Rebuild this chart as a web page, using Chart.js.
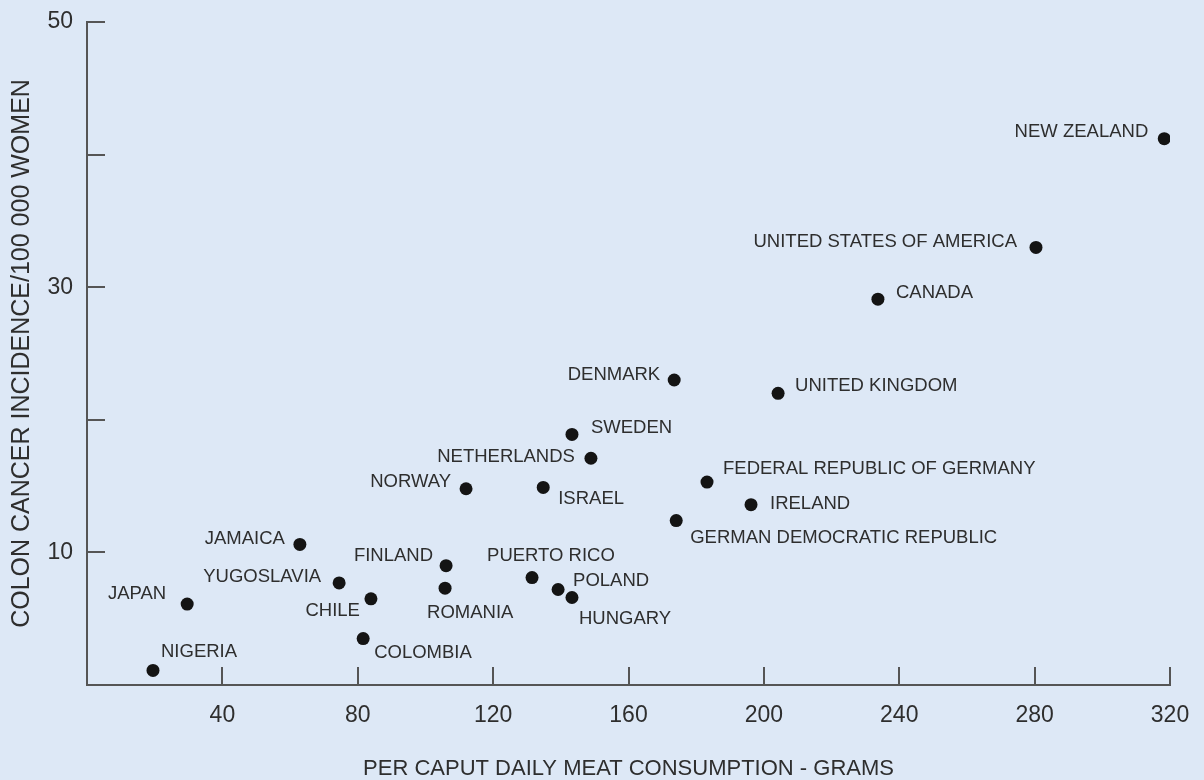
<!DOCTYPE html>
<html>
<head>
<meta charset="utf-8">
<title>Colon cancer incidence and meat consumption</title>
<script src="https://cdn.jsdelivr.net/npm/chart.js@4.4.1/dist/chart.umd.min.js"></script>
<style>
    html, body { margin: 0; padding: 0; background: #dde8f6; overflow: hidden; }
    canvas { display: block; }
</style>
</head>
<body>
<canvas id="meatChart" width="1204" height="780"></canvas>
<script>
// Countries, meat intake (g/day) and colon cancer incidence per 100 000 women
const countries = [
    'NEW ZEALAND', 'UNITED STATES OF AMERICA', 'CANADA', 'DENMARK', 'UNITED KINGDOM',
    'SWEDEN', 'NETHERLANDS', 'NORWAY', 'ISRAEL', 'FEDERAL REPUBLIC OF GERMANY',
    'IRELAND', 'GERMAN DEMOCRATIC REPUBLIC', 'JAMAICA', 'FINLAND', 'PUERTO RICO',
    'YUGOSLAVIA', 'ROMANIA', 'POLAND', 'HUNGARY', 'CHILE', 'JAPAN', 'COLOMBIA', 'NIGERIA'
];
const meatGrams = [
    318.3, 280.4, 233.7, 173.5, 204.2,
    143.3, 148.9, 112.0, 134.8, 183.2,
    196.2, 174.1, 62.9, 106.1, 131.5,
    74.5, 105.8, 139.2, 143.3, 83.9, 29.6, 81.6, 19.5
];
const colonIncidence = [
    41.2, 33.0, 29.1, 23.0, 22.0,
    18.9, 17.1, 14.8, 14.9, 15.3,
    13.6, 12.4, 10.6, 9.0, 8.1,
    7.7, 7.3, 7.2, 6.6, 6.5, 6.1, 3.5, 1.1
];
const xTickValues = [40, 80, 120, 160, 200, 240, 280, 320];
const yTickValues = [10, 20, 30, 40, 50];
const yTickLabels = [10, 30, 50];

// where each country name sits relative to its dot: [dx, dy, align]
const labelPlacement = [
    [-16, -7, 'right'], [-19, -6, 'right'], [18, -6, 'left'], [-14, -5, 'right'], [17, -7, 'left'],
    [19, -6, 'left'], [-16, -1, 'right'], [-15, -7, 'right'], [15, 11, 'left'], [16, -13, 'left'],
    [19, -1, 'left'], [14, 17, 'left'], [-15, -6, 'right'], [-13, -10, 'right'], [-45, -22, 'left'],
    [-18, -6, 'right'], [-18, 25, 'left'], [15, -9, 'left'], [7, 21, 'left'], [-11, 12, 'right'],
    [-21, -10, 'right'], [11, 14, 'left'], [8, -19, 'left']
];

const points = meatGrams.map((g, i) => ({ x: g, y: colonIncidence[i] }));

const textColor = '#2e2e2e';
const axisColor = '#555555';

Chart.defaults.font.family = '"Liberation Sans", Arial, Helvetica, sans-serif';
Chart.defaults.color = textColor;

// short tick marks pointing into the plot
const innerTicks = {
    id: 'innerTicks',
    afterDraw(chart) {
        const { ctx, chartArea, scales } = chart;
        ctx.save();
        ctx.strokeStyle = axisColor;
        ctx.lineWidth = 2;
        ctx.beginPath();
        yTickValues.forEach(v => {
            const y = Math.round(scales.y.getPixelForValue(v));
            ctx.moveTo(chartArea.left, y);
            ctx.lineTo(chartArea.left + 18, y);
        });
        xTickValues.forEach(v => {
            const x = Math.round(scales.x.getPixelForValue(v));
            ctx.moveTo(x, chartArea.bottom);
            ctx.lineTo(x, chartArea.bottom - 18);
        });
        ctx.stroke();
        ctx.restore();
    }
};

// country names next to the dots
const countryLabels = {
    id: 'countryLabels',
    afterDatasetsDraw(chart) {
        const { ctx, scales } = chart;
        ctx.save();
        ctx.font = '18.5px "Liberation Sans", Arial, sans-serif';
        ctx.fillStyle = textColor;
        ctx.textBaseline = 'middle';
        countries.forEach((name, i) => {
            const [dx, dy, align] = labelPlacement[i];
            const px = scales.x.getPixelForValue(meatGrams[i]);
            const py = scales.y.getPixelForValue(colonIncidence[i]);
            ctx.textAlign = align;
            ctx.fillText(name, px + dx, py + dy);
        });
        ctx.restore();
    }
};

const ctx = document.getElementById('meatChart').getContext('2d');
const meatChart = new Chart(ctx, {
    type: 'scatter',
    data: {
        datasets: [{
            label: 'Colon cancer incidence',
            data: points,
            backgroundColor: '#141414',
            borderWidth: 0,
            pointRadius: 6.5,
            pointHoverRadius: 6.5
        }]
    },
    options: {
        responsive: false,
        animation: false,
        devicePixelRatio: 1,
        layout: {
            padding: { left: 0, top: 22, right: 34, bottom: 0 }
        },
        plugins: {
            legend: { display: false },
            tooltip: { enabled: false }
        },
        scales: {
            x: {
                type: 'linear',
                min: 0,
                max: 320,
                afterFit(scale) {
                    scale.height = 95;
                    scale.paddingLeft = 0;
                    scale.paddingRight = 0;
                },
                afterBuildTicks(scale) {
                    scale.ticks = xTickValues.map(v => ({ value: v }));
                },
                ticks: {
                    padding: 17,
                    font: { size: 23 },
                    color: textColor,
                    maxRotation: 0
                },
                grid: { drawOnChartArea: false, drawTicks: false },
                border: { display: true, color: axisColor, width: 2 },
                title: {
                    display: true,
                    text: 'PER CAPUT DAILY MEAT CONSUMPTION - GRAMS',
                    font: { size: 22, lineHeight: 1 },
                    color: textColor,
                    padding: { top: 0, bottom: 0 }
                }
            },
            y: {
                type: 'linear',
                min: 0,
                max: 50,
                afterFit(scale) {
                    scale.width = 87;
                    scale.paddingTop = 0;
                    scale.paddingBottom = 0;
                },
                afterBuildTicks(scale) {
                    scale.ticks = yTickLabels.map(v => ({ value: v }));
                },
                ticks: {
                    padding: 14,
                    font: { size: 23 },
                    color: textColor
                },
                grid: { drawOnChartArea: false, drawTicks: false },
                border: { display: true, color: axisColor, width: 2 },
                title: {
                    display: true,
                    text: 'COLON CANCER INCIDENCE/100 000 WOMEN',
                    font: { size: 25, lineHeight: 1 },
                    color: textColor,
                    padding: { top: 10, bottom: 0 }
                }
            }
        }
    },
    plugins: [innerTicks, countryLabels]
});
</script>
</body>
</html>
